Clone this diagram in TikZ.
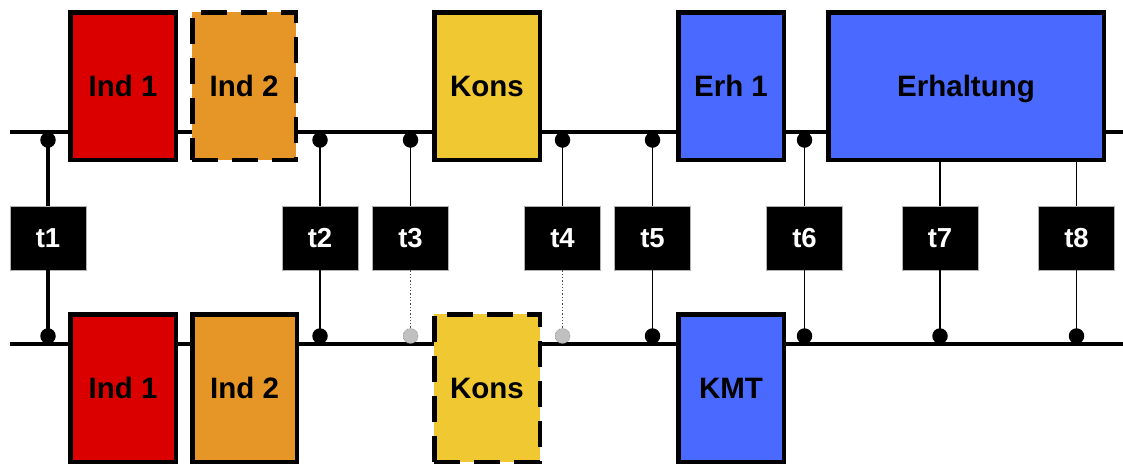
\documentclass[tikz,border=0pt]{standalone}
\usepackage{fontspec}
\setmainfont{Liberation Sans}
\definecolor{cred}{RGB}{218,0,0}
\definecolor{corange}{RGB}{230,150,38}
\definecolor{cyellow}{RGB}{240,200,50}
\definecolor{cblue}{RGB}{74,106,255}
\definecolor{cgray}{RGB}{192,192,192}
\begin{document}
\begin{tikzpicture}[x=1pt,y=-1pt,
  blk/.style={draw=black, line width=4.5pt, inner sep=0pt, minimum height=147.5pt, text=black,
    text height=21.1pt, text depth=0pt,
    font=\bfseries\fontsize{29.5}{29.5}\selectfont},
  dashbox/.style={dash pattern=on 26pt off 14pt},
  tlab/.style={fill=black, draw=gray!60, line width=0.6pt, inner sep=0pt, minimum width=76pt, minimum height=64pt,
    text=white, text height=19.7pt, text depth=0pt, font=\bfseries\fontsize{27.5}{27.5}\selectfont},
  rail/.style={line width=4.5pt},
  thin/.style={line width=1.6pt},
  thick/.style={line width=4.5pt},
  dot/.style={circle, fill=black, inner sep=0pt, minimum size=15.5pt},
  gdot/.style={circle, fill=cgray, draw=gray, densely dotted, line width=0.6pt, inner sep=0pt, minimum size=15pt},
]
\clip (0,0) rectangle (1123,464);
\fill[white] (0,0) rectangle (1123,464);

% rails
\coordinate (tl) at (10,132);
\coordinate (tr) at (1123,132);
\coordinate (bl) at (10,344);
\coordinate (br) at (1123,344);
\draw[rail] (tl) -- (tr);
\draw[rail] (bl) -- (br);

% top boxes
\node[blk, fill=cred, minimum width=105.5pt] (i1t) at (123,86) {Ind 1};
\node[blk, dashbox, fill=corange, minimum width=103.5pt] (i2t) at (244,86) {Ind 2};
\node[blk, fill=cyellow, minimum width=105.5pt] (kt) at (487,86) {Kons};
\node[blk, fill=cblue, minimum width=105.5pt] (e1t) at (731,86) {Erh 1};
\node[blk, fill=cblue, minimum width=275.5pt] (et) at (966,86) {Erhaltung};

% bottom boxes
\node[blk, fill=cred, minimum width=105.5pt] (i1b) at (123,388) {Ind 1};
\node[blk, fill=corange, minimum width=104.5pt] (i2b) at (244.5,388) {Ind 2};
\node[blk, dashbox, fill=cyellow, minimum width=105.5pt] (kb) at (487,388) {Kons};
\node[blk, fill=cblue, minimum width=105.5pt] (kmt) at (731,388) {KMT};

% time labels
\node[tlab] (t1) at (48,238) {t1};
\node[tlab] (t2) at (320,238) {t2};
\node[tlab] (t3) at (410.5,238) {t3};
\node[tlab] (t4) at (562.5,238) {t4};
\node[tlab] (t5) at (652.5,238) {t5};
\node[tlab] (t6) at (804.5,238) {t6};
\node[tlab] (t7) at (940,238) {t7};
\node[tlab] (t8) at (1076.5,238) {t8};

% top dots
\coordinate (u1) at (48,140);
\coordinate (u2) at (320,140);
\coordinate (u3) at (410.5,140);
\coordinate (u4) at (562.5,140);
\coordinate (u5) at (652.5,140);
\coordinate (u6) at (804.5,140);
% bottom dots
\coordinate (d1) at (48,336);
\coordinate (d2) at (320,336);
\coordinate (d3) at (410.5,336);
\coordinate (d4) at (562.5,336);
\coordinate (d5) at (652.5,336);
\coordinate (d6) at (804.5,336);
\coordinate (d7) at (940,336);
\coordinate (d8) at (1076.5,336);

% connectors
\draw[thick] (u1) -- (t1.north);
\draw[thick] (t1.south) -- (d1);
\foreach \i in {2,5,6}{
  \draw[thin] (u\i) -- (t\i.north);
  \draw[thin] (t\i.south) -- (d\i);
}
\foreach \i in {3,4}{
  \draw[thin] (u\i) -- (t\i.north);
  \draw[gray!60!black, line width=1.3pt, dotted] (t\i.south) -- (d\i);
}
\draw[thin] (et.south -| t7) -- (t7.north);
\draw[thin] (t7.south) -- (d7);
\draw[thin] (et.south -| t8) -- (t8.north);
\draw[thin] (t8.south) -- (d8);

% dots
\foreach \i in {1,...,6}{ \node[dot] (nu\i) at (u\i) {}; }
\foreach \i in {1,2,5,6,7,8}{ \node[dot] (nd\i) at (d\i) {}; }
\node[gdot] (nd3) at (d3) {};
\node[gdot] (nd4) at (d4) {};
\end{tikzpicture}
\end{document}
